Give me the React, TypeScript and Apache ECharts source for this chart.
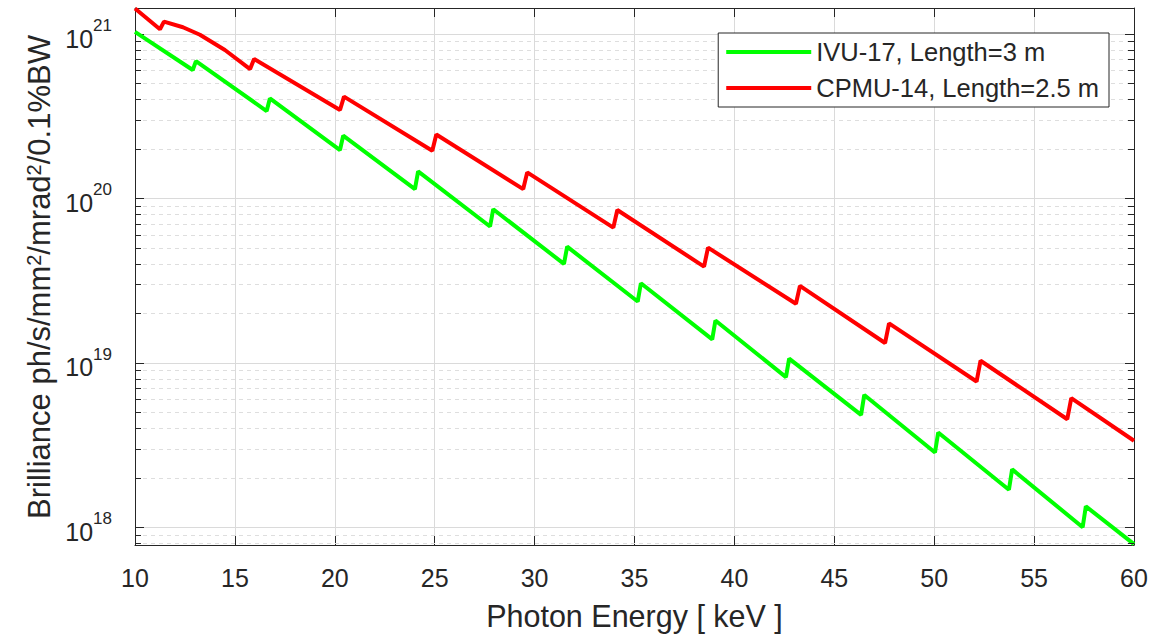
import { useEffect, useRef } from "react";
import * as echarts from "echarts";

// IVU-17, Length=3 m  (photon energy keV, brilliance)
const ivuEnergy = [10, 12.89, 13.05, 16.59, 16.75, 20.26, 20.42, 24.01, 24.17, 27.77, 27.93, 31.47, 31.63, 35.16, 35.32, 38.89, 39.05, 42.58, 42.74, 46.34, 46.5, 50.04, 50.2, 53.74, 53.9, 57.43, 57.59, 60];
const ivuBrilliance = [1.03e21, 6.04e20, 6.85e20, 3.4e20, 4.06e20, 1.97e20, 2.41e20, 1.14e20, 1.46e20, 6.75e19, 8.6e19, 4.0e19, 5.09e19, 2.36e19, 3.05e19, 1.39e19, 1.81e19, 8.19e18, 1.06e19, 4.83e18, 6.38e18, 2.85e18, 3.77e18, 1.69e18, 2.25e18, 1.0e18, 1.34e18, 7.9e17];

// CPMU-14, Length=2.5 m
const cpmuEnergy = [10, 11.25, 11.45, 12.4, 13.25, 14.5, 15.76, 15.96, 20.26, 20.46, 24.88, 25.08, 29.43, 29.63, 33.94, 34.14, 38.48, 38.68, 43.08, 43.28, 47.54, 47.74, 52.12, 52.32, 56.66, 56.86, 60];
const cpmuBrilliance = [1.43e21, 1.07e21, 1.19e21, 1.1e21, 9.9e20, 8.0e20, 6.12e20, 7.05e20, 3.45e20, 4.16e20, 1.95e20, 2.45e20, 1.14e20, 1.44e20, 6.64e19, 8.5e19, 3.85e19, 5.02e19, 2.29e19, 2.94e19, 1.32e19, 1.74e19, 7.7e18, 1.03e19, 4.54e18, 6.1e18, 3.36e18];

const seriesNames = ["IVU-17, Length=3 m", "CPMU-14, Length=2.5 m"];
const seriesColors = ["#00ff00", "#ff0000"];

const xMin = 10;
const xMax = 60;
const xStep = 5;
const yMin = 7.8e17;
const yMax = 1.44e21;
const minorMultipliers = [2, 3, 4, 5, 6, 7, 8, 9];
const decadeExponents = [17, 18, 19, 20];

const FONT = "'Liberation Sans', Arial, Helvetica, sans-serif";
const INK = "#262626";

export default function App() {
  const ref = useRef<HTMLDivElement>(null);

  useEffect(() => {
    if (!ref.current) return;
    const chart = echarts.init(ref.current, undefined, { renderer: "svg" });

    const minorValues: number[] = [];
    decadeExponents.forEach((k) =>
      minorMultipliers.forEach((m) => {
        const v = m * Math.pow(10, k);
        if (v > yMin && v < yMax) minorValues.push(v);
      })
    );

    const tickLen = 0.3;
    const minorTicks: any[] = [];
    minorValues.forEach((v) => {
      minorTicks.push([{ coord: [xMin, v] }, { coord: [xMin + tickLen, v] }]);
      minorTicks.push([{ coord: [xMax - tickLen, v] }, { coord: [xMax, v] }]);
    });

    const yLabel = (v: number) => {
      const l = Math.log10(v);
      const r = Math.round(l);
      if (Math.abs(l - r) > 1e-6) return "";
      return `{b|10}{s|${r}}`;
    };

    chart.setOption({
      animation: false,
      backgroundColor: "#ffffff",
      textStyle: { fontFamily: FONT, color: INK },
      grid: { left: 135, right: 22, top: 8, bottom: 96, containLabel: false },
      legend: {
        data: seriesNames,
        orient: "vertical",
        right: 47,
        top: 33,
        icon: "rect",
        itemWidth: 85,
        itemHeight: 4,
        itemGap: 6,
        padding: [4, 10, 4, 8],
        borderColor: INK,
        borderWidth: 1,
        backgroundColor: "#ffffff",
        textStyle: { fontFamily: FONT, fontSize: 25.5, lineHeight: 30, color: INK },
        z: 10,
      },
      graphic: [
        {
          type: "text",
          x: 39,
          y: 277,
          rotation: Math.PI / 2,
          z: 10,
          style: {
            text: "Brilliance ph/s/mm{s|2}/mrad{s|2}/0.1%BW",
            fontFamily: FONT,
            fontSize: 31,
            fill: INK,
            align: "center",
            verticalAlign: "middle",
            rich: {
              s: { fontFamily: FONT, fontSize: 20, fill: INK, verticalAlign: "top", lineHeight: 20 },
            },
          },
        },
      ],
      xAxis: [
        {
          type: "value",
          min: xMin,
          max: xMax,
          interval: xStep,
          position: "bottom",
          name: "Photon Energy [ keV ]",
          nameLocation: "middle",
          nameGap: 55,
          nameTextStyle: { fontFamily: FONT, fontSize: 30.5, color: INK },
          axisLine: { show: true, lineStyle: { color: INK, width: 1 } },
          axisTick: { show: true, inside: true, length: 9, lineStyle: { color: INK } },
          axisLabel: { fontFamily: FONT, fontSize: 25, color: INK, margin: 20 },
          splitLine: { show: true, lineStyle: { color: "#dadada", width: 1 } },
        },
        {
          type: "value",
          min: xMin,
          max: xMax,
          interval: xStep,
          position: "top",
          axisLine: { show: true, lineStyle: { color: INK, width: 1 } },
          axisTick: { show: true, inside: true, length: 9, lineStyle: { color: INK } },
          axisLabel: { show: false },
          splitLine: { show: false },
        },
      ],
      yAxis: [
        {
          type: "log",
          logBase: 10,
          min: yMin,
          max: yMax,
          position: "left",
          axisLine: { show: true, lineStyle: { color: INK, width: 1 } },
          axisTick: { show: true, inside: true, length: 9, lineStyle: { color: INK } },
          axisLabel: {
            margin: 23,
            showMinLabel: false,
            showMaxLabel: false,
            formatter: yLabel,
            rich: {
              b: { fontFamily: FONT, fontSize: 25, color: INK, verticalAlign: "bottom", lineHeight: 34 },
              s: { fontFamily: FONT, fontSize: 17, color: INK, verticalAlign: "top", lineHeight: 20 },
            },
          },
          splitLine: { show: true, lineStyle: { color: "#dadada", width: 1 } },
          minorTick: { show: false },
        },
        {
          type: "log",
          logBase: 10,
          min: yMin,
          max: yMax,
          position: "right",
          axisLine: { show: true, lineStyle: { color: INK, width: 1 } },
          axisTick: { show: true, inside: true, length: 9, lineStyle: { color: INK } },
          axisLabel: { show: false },
          splitLine: { show: false },
        },
      ],
      series: [
        {
          type: "line",
          name: "_minorGrid",
          data: [],
          xAxisIndex: 0,
          yAxisIndex: 0,
          z: 1,
          silent: true,
          markLine: {
            z: 1,
            silent: true,
            symbol: ["none", "none"],
            label: { show: false },
            emphasis: { disabled: true },
            lineStyle: { color: "#dedede", width: 1, type: [4, 4] },
            data: minorValues.map((v) => ({ yAxis: v })),
          },
        },
        {
          type: "line",
          name: "_minorTicks",
          data: [],
          xAxisIndex: 0,
          yAxisIndex: 0,
          z: 4,
          silent: true,
          markLine: {
            silent: true,
            symbol: ["none", "none"],
            label: { show: false },
            emphasis: { disabled: true },
            lineStyle: { color: INK, width: 1, type: "solid" },
            data: minorTicks,
          },
        },
        {
          type: "line",
          name: seriesNames[0],
          data: ivuEnergy.map((e, i) => [e, ivuBrilliance[i]]),
          showSymbol: false,
          symbol: "none",
          color: seriesColors[0],
          lineStyle: { color: seriesColors[0], width: 4 },
          z: 3,
        },
        {
          type: "line",
          name: seriesNames[1],
          data: cpmuEnergy.map((e, i) => [e, cpmuBrilliance[i]]),
          showSymbol: false,
          symbol: "none",
          color: seriesColors[1],
          lineStyle: { color: seriesColors[1], width: 4 },
          z: 3,
        },
      ],
    });

    return () => chart.dispose();
  }, []);

  return (
    <div
      ref={ref}
      style={{ position: "fixed", left: 0, top: 0, width: 1156, height: 641, background: "#fff" }}
    />
  );
}
